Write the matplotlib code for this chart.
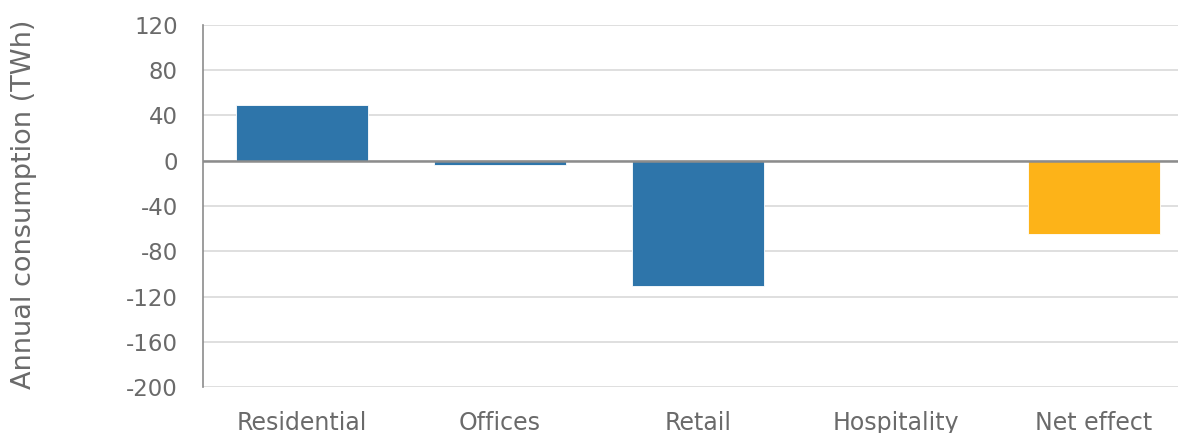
import matplotlib.pyplot as plt

# Change in annual consumption by sector (TWh)
sectors = ['Residential', 'Offices', 'Retail', 'Hospitality', 'Net effect']
change_twh = [49, -3.5, -110.5, 0.0, -65]
bar_colors = ['#2e75aa', '#2e75aa', '#2e75aa', '#2e75aa', '#fdb318']
yticks = [120, 80, 40, 0, -40, -80, -120, -160, -200]

plt.rcParams['font.family'] = ['DejaVu Sans']
text_color = '#6a6a6a'

fig = plt.figure(figsize=(11.78, 4.33), dpi=100)
# axes runs a bit past the right edge of the figure
ax = fig.add_axes([0.1723, 0.1055, 0.8404, 0.8379])

ax.bar(range(len(sectors)), change_twh, width=0.667, color=bar_colors,
       edgecolor='white', linewidth=0.6, zorder=3)

ax.set_xlim(-0.5, len(sectors) - 0.5)
ax.set_ylim(-200, 120)
ax.set_yticks(yticks)
ax.set_yticklabels([str(v) for v in yticks])
ax.set_xticks(range(len(sectors)))
ax.set_xticklabels(sectors)

ax.grid(axis='y', color='#d9d9d9', linewidth=1.2, zorder=0)
ax.axhline(0, color='#8c8c8c', linewidth=1.8, zorder=4)

for side in ['top', 'right', 'bottom']:
    ax.spines[side].set_visible(False)
ax.spines['left'].set_color('#8c8c8c')
ax.spines['left'].set_linewidth(1.2)

ax.tick_params(axis='both', length=0, colors=text_color)
ax.tick_params(axis='y', pad=18, labelsize=16.5)
ax.tick_params(axis='x', pad=17, labelsize=17)

ax.set_ylabel('Annual consumption (TWh)', fontsize=19.5, color=text_color)
ax.yaxis.set_label_coords(-0.168, 0.505)

fig.savefig('out.png', dpi=100)
